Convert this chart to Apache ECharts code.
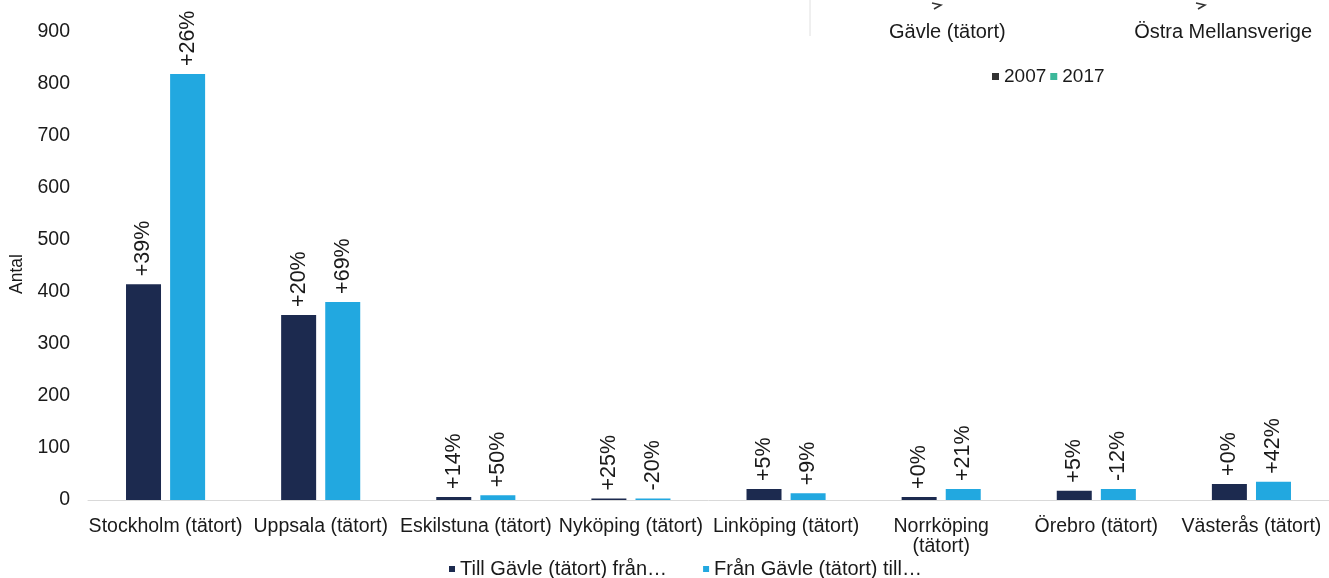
<!DOCTYPE html>
<html><head><meta charset="utf-8">
<script src="https://cdn.jsdelivr.net/npm/echarts@6/dist/echarts.min.js"></script>
<style>html,body{margin:0;padding:0;background:#fff}#c{width:1329px;height:578px}</style>
</head><body><div id="c"></div>
<script>
const categories = ['Stockholm (tätort)','Uppsala (tätort)','Eskilstuna (tätort)','Nyköping (tätort)','Linköping (tätort)','Norrköping (tätort)','Örebro (tätort)','Västerås (tätort)'];
const tillValues = [415, 356, 6, 3, 21, 6, 18, 31];
const franValues = [819, 381, 9, 3, 13, 21, 21, 35];
const tillLabels = ['+39%','+20%','+14%','+25%','+5%','+0%','+5%','+0%'];
const franLabels = ['+26%','+69%','+50%','-20%','+9%','+21%','-12%','+42%'];
const yTicks = [0,100,200,300,400,500,600,700,800,900];
const seriesNames = ['Till Gävle (tätort) från…','Från Gävle (tätort) till…'];
const yearNames = ['2007','2017'];
const topTitles = ['Gävle (tätort)','Östra Mellansverige'];

const FONT = 'Liberation Sans, Arial, sans-serif';
const TXT = '#1a1a1a';
const chart = echarts.init(document.getElementById('c'));
const lbl = (arr) => ({
  show: true, position: 'top', rotate: 90, distance: 8, align: 'left', verticalAlign: 'middle',
  color: TXT, fontSize: 21.5, fontFamily: FONT,
  formatter: p => arr[p.dataIndex]
});
chart.setOption({
  animation: false,
  textStyle: { fontFamily: FONT },
  grid: { left: 88, right: 0, top: 32, bottom: 78 },
  legend: [{
    data: seriesNames, bottom: -6, left: 444, itemWidth: 6, itemHeight: 6, icon: 'rect', itemGap: 36,
    textStyle: { fontSize: 20, color: TXT, fontFamily: FONT }
  }, {
    data: yearNames, top: 62, left: 987, itemWidth: 7, itemHeight: 7, icon: 'rect', itemGap: 4,
    textStyle: { fontSize: 19, color: TXT, fontFamily: FONT }
  }],
  xAxis: {
    type: 'category', data: categories,
    axisLine: { lineStyle: { color: '#d9d9d9', width: 1 } },
    axisTick: { show: false },
    axisLabel: { color: TXT, fontSize: 19.5, fontFamily: FONT, margin: 17, interval: 0, lineHeight: 20,
      formatter: v => v === 'Norrköping (tätort)' ? 'Norrköping\n(tätort)' : v }
  },
  yAxis: {
    type: 'value', min: 0, max: 900, interval: 100,
    name: 'Antal', nameLocation: 'middle', nameGap: 60, nameRotate: 90,
    nameTextStyle: { fontSize: 17.5, color: TXT, fontFamily: FONT, padding: [0, 16, 0, 0] },
    splitLine: { show: false }, axisLine: { show: false }, axisTick: { show: false },
    axisLabel: { color: TXT, fontSize: 19.5, fontFamily: FONT, margin: 18,
      formatter: v => yTicks.includes(v) ? String(v) : '' }
  },
  series: [
    { name: seriesNames[0], type: 'bar', data: tillValues, barWidth: 35, barGap: '26%',
      itemStyle: { color: '#1c2a4f' }, label: lbl(tillLabels) },
    { name: seriesNames[1], type: 'bar', data: franValues, barWidth: 35,
      itemStyle: { color: '#22a8e0' }, label: lbl(franLabels) },
    { name: yearNames[0], type: 'line', data: [], itemStyle: { color: '#333333' } },
    { name: yearNames[1], type: 'line', data: [], itemStyle: { color: '#3cb89a' } }
  ],
  graphic: [
    { type: 'line', shape: { x1: 810, y1: 0, x2: 810, y2: 36 }, style: { stroke: '#e0e0e0', lineWidth: 1 } },
    { type: 'text', left: 889, top: 22, style: { text: topTitles[0], fontSize: 20, fill: TXT, fontFamily: FONT } },
    { type: 'text', right: 17, top: 22, style: { text: topTitles[1], fontSize: 20, fill: TXT, fontFamily: FONT } },
    { type: 'polyline', shape: { points: [[932, 3],[941, 5],[934, 9]] }, style: { stroke: '#333', lineWidth: 1.5, fill: null } },
    { type: 'polyline', shape: { points: [[1196, 3],[1205, 5],[1198, 9]] }, style: { stroke: '#333', lineWidth: 1.5, fill: null } }
  ]
});
</script></body></html>
